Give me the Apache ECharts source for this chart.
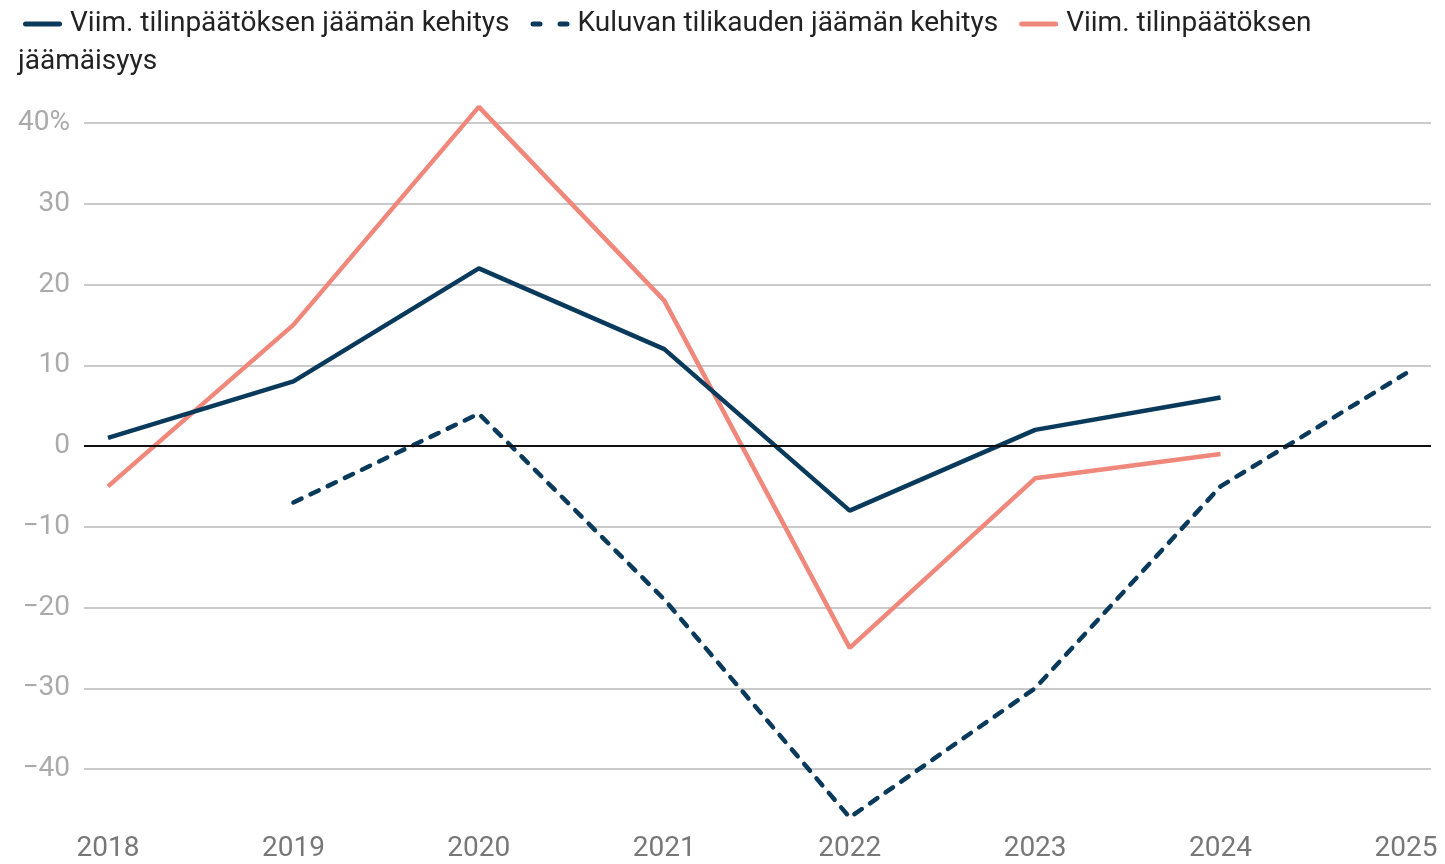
<!DOCTYPE html>
<html>
<head>
<meta charset="utf-8">
<script src="https://cdn.jsdelivr.net/npm/echarts@6/dist/echarts.min.js"></script>
<style>
  html, body { margin: 0; padding: 0; background: #fff; }
  #main { width: 1445px; height: 864px; }
</style>
</head>
<body>
<div id="main"></div>
<script>
var years = [2018, 2019, 2020, 2021, 2022, 2023, 2024, 2025];
var tilinpaatos = [1, 8, 22, 12, -8, 2, 6, null];
var kuluva = [null, -7, 4, -19, -46, -30, -5, 9];
var jaamaisyys = [-5, 15, 42, 18, -25, -4, -1, null];
var yTicks = [-40, -30, -20, -10, 0, 10, 20, 30, 40];

var names = [
  "Viim. tilinpäätöksen jäämän kehitys",
  "Kuluvan tilikauden jäämän kehitys",
  "Viim. tilinpäätöksen jäämäisyys"
];

var navy = "#0a3a5b";
var salmon = "#f0877b";

function pairs(arr) {
  var out = [];
  for (var i = 0; i < years.length; i++) {
    if (arr[i] !== null) out.push([years[i], arr[i]]);
  }
  return out;
}

var chartDom = document.getElementById("main");
var myChart = echarts.init(chartDom);
var option;

option = {
  animation: false,
  textStyle: { fontFamily: "Roboto" },
  legend: {
    left: 18,
    top: 5,
    itemGap: 21,
    itemWidth: 39,
    itemHeight: 5,
    textStyle: { fontSize: 28, color: "#222", fontFamily: "Roboto", padding: [0, 0, 0, 3] },
    formatter: function (name) {
      // third item wraps after "tilinpäätöksen"
      if (name === names[2]) return "Viim. tilinpäätöksen";
      return name;
    },
    data: [
      { name: names[0], icon: "path://M2.5,0h34a2.5,2.5 0 0 1 0,5h-34a2.5,2.5 0 0 1 0,-5z" },
      { name: names[1], icon: "path://M2.5,0h7a2.5,2.5 0 0 1 0,5h-7a2.5,2.5 0 0 1 0,-5z M29.5,0h7a2.5,2.5 0 0 1 0,5h-7a2.5,2.5 0 0 1 0,-5z" },
      { name: names[2], icon: "path://M2.5,0h34a2.5,2.5 0 0 1 0,5h-34a2.5,2.5 0 0 1 0,-5z" }
    ]
  },
  graphic: [
    {
      type: "text",
      left: 18,
      top: 48,
      style: { text: "jäämäisyys", fontSize: 28, fill: "#222", fontFamily: "Roboto" }
    }
  ],
  grid: {
    left: 84,
    right: 14,
    top: 123,
    bottom: 95
  },
  xAxis: {
    type: "value",
    min: 2017.8706,
    max: 2025.135,
    axisLine: { show: false },
    axisTick: { show: false },
    splitLine: { show: false },
    axisLabel: {
      customValues: years,
      margin: 66,
      fontSize: 28,
      color: "#777",
      formatter: function (v) { return String(v); }
    }
  },
  yAxis: {
    type: "value",
    min: -40,
    max: 40,
    interval: 10,
    axisLine: { show: false },
    axisTick: { show: false },
    splitLine: { lineStyle: { color: "#cacaca", width: 2 } },
    axisLabel: {
      margin: 14,
      fontSize: 28,
      color: "#aaa",
      formatter: function (v) {
        if (v === yTicks[yTicks.length - 1]) return v + "%";
        if (v < 0) return "\u2212" + Math.abs(v);
        return String(v);
      }
    }
  },
  series: [
    {
      name: names[0],
      type: "line",
      symbol: "none",
      clip: false,
      lineStyle: { color: navy, width: 4.5 },
      itemStyle: { color: navy },
      data: pairs(tilinpaatos),
      markLine: {
        silent: true,
        symbol: "none",
        label: { show: false },
        lineStyle: { color: "#111", width: 2, type: "solid" },
        data: [{ yAxis: 0 }]
      },
      z: 3
    },
    {
      name: names[1],
      type: "line",
      symbol: "none",
      clip: false,
      lineStyle: { color: navy, width: 4.5, type: [9, 10], cap: "round" },
      itemStyle: { color: navy },
      data: pairs(kuluva),
      z: 3
    },
    {
      name: names[2],
      type: "line",
      symbol: "none",
      clip: false,
      lineStyle: { color: salmon, width: 4.5 },
      itemStyle: { color: salmon },
      data: pairs(jaamaisyys),
      z: 2
    }
  ]
};

option && myChart.setOption(option, true);
</script>
</body>
</html>
